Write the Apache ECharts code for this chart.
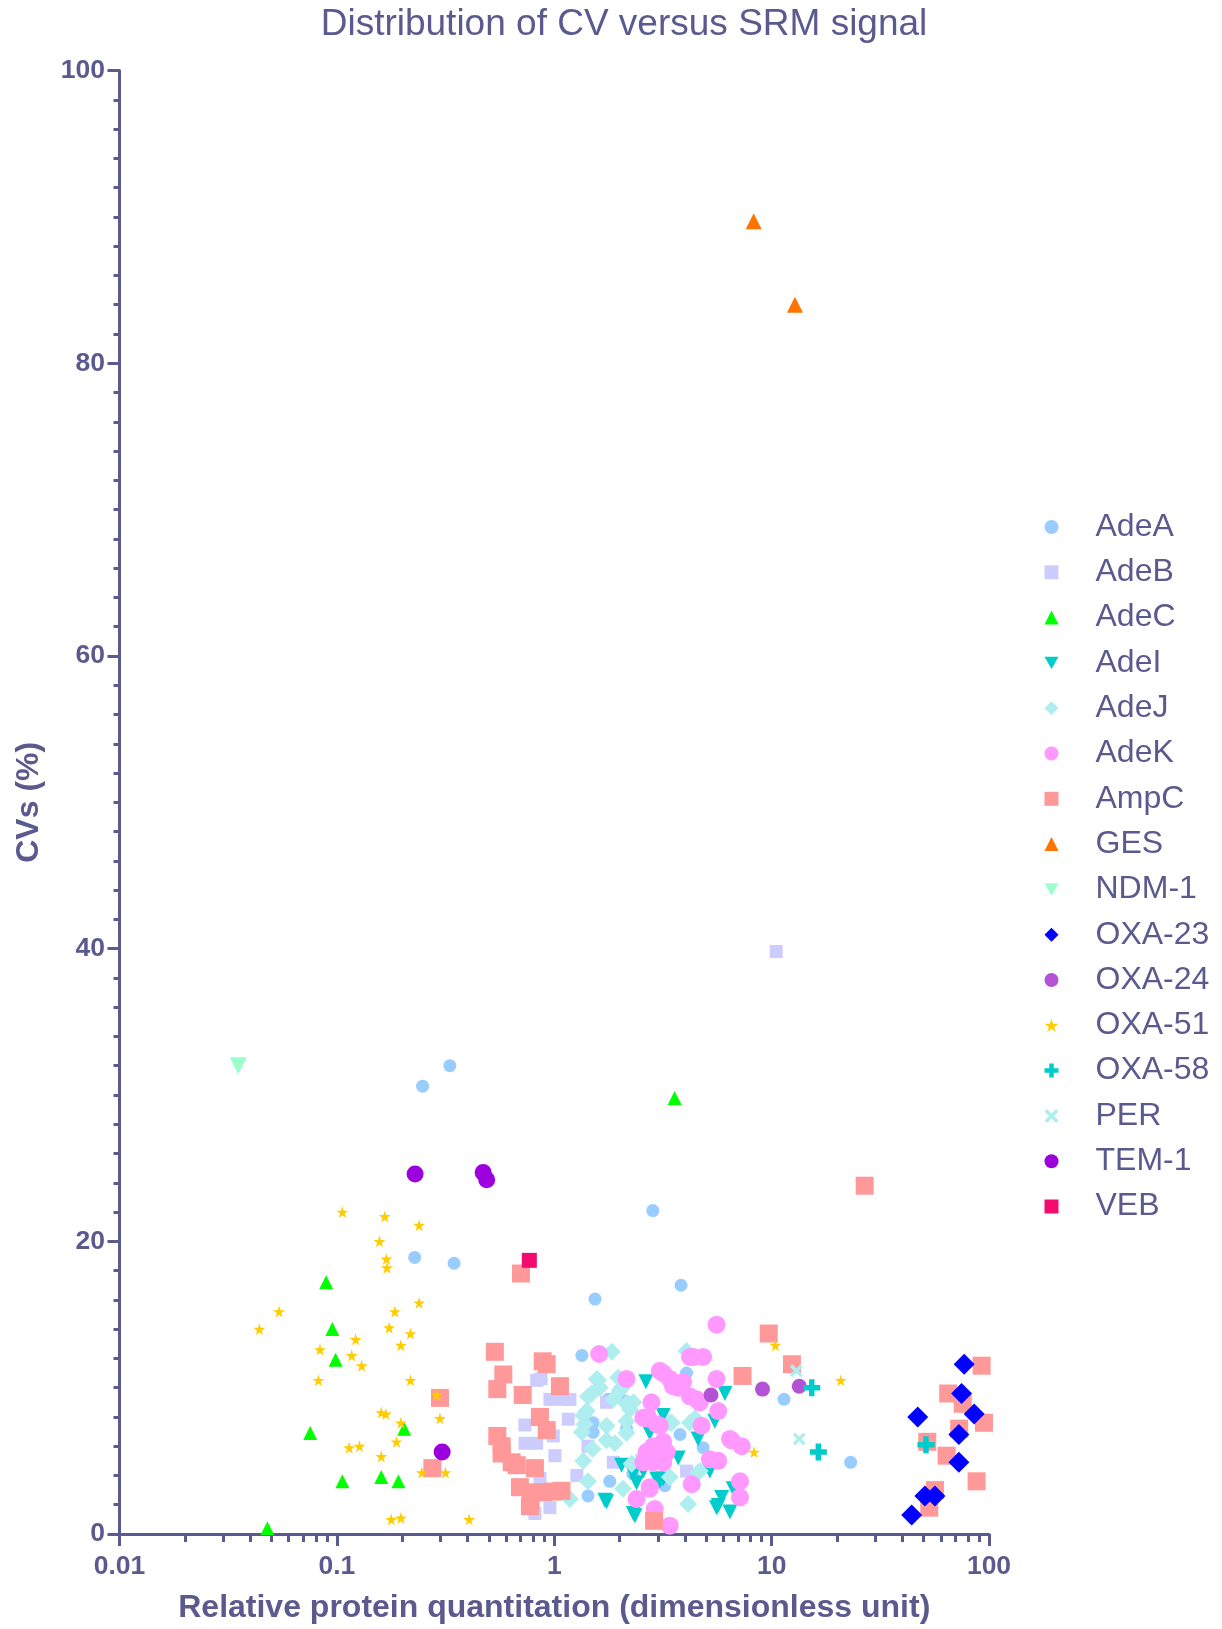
<!DOCTYPE html>
<html>
<head>
<meta charset="utf-8">
<script src="https://cdn.jsdelivr.net/npm/echarts@6/dist/echarts.min.js"></script>
<style>
html,body{margin:0;padding:0;background:#fff;}
#chart{width:1222px;height:1629px;}
</style>
</head>
<body>
<div id="chart"></div>
<script>
// ---- data: [relative protein quantitation, CV %] ----
const seriesNames = ['AdeA','AdeB','AdeC','AdeI','AdeJ','AdeK','AmpC','GES','NDM-1','OXA-23','OXA-24','OXA-51','OXA-58','PER','TEM-1','VEB'];
const xTickLabels = ['0.01','0.1','1','10','100'];
const yTickValues = [0,20,40,60,80,100];

const AdeA = [[0.331,32.0],[0.248,30.6],[2.84,22.1],[0.228,18.9],[0.346,18.5],[3.83,17.0],[1.54,16.05],[1.34,12.2],[11.4,9.2],[23.1,4.9],[4.06,11.0],[1.51,7.6],[1.51,6.95],[3.79,6.8],[4.84,5.9],[1.8,3.6],[1.43,2.6],[2.15,7.2],[3.23,3.3],[2.11,9.1],[1.77,9.2],[2.3,4.1],[2.15,9.0]];
const AdeB = [[10.5,39.8],[0.83,10.5],[0.955,9.2],[1.08,9.2],[1.18,9.2],[0.733,7.45],[1.16,7.85],[1.74,9.0],[0.733,6.2],[0.83,6.2],[0.99,6.7],[1.007,5.35],[1.27,4.0],[1.87,4.9],[0.955,1.8],[0.815,1.4],[4.06,4.3],[0.86,3.8],[1.43,6.0],[0.87,10.6]];
const AdeC = [[3.58,29.8],[0.0893,17.2],[0.0953,14.0],[0.0987,11.9],[0.0754,6.9],[0.204,7.2],[0.106,3.6],[0.16,3.9],[0.192,3.6],[0.0479,0.4]];
const AdeI = [[2.64,10.4],[6.1,9.6],[3.17,8.1],[5.48,7.7],[2.75,6.9],[4.59,6.5],[2.04,4.7],[2.31,4.1],[2.57,4.3],[2.96,3.75],[3.17,3.75],[3.72,5.2],[5.2,4.3],[1.74,2.2],[2.31,1.4],[5.89,2.5],[5.68,1.95],[6.43,1.5],[6.66,3.1],[2.39,3.5],[2.35,1.25],[3.06,3.6],[1.71,2.3],[5.58,1.8]];
const AdeJ = [[1.84,12.45],[1.57,10.6],[1.62,10.0],[1.43,9.4],[1.41,8.4],[1.36,8.1],[1.38,7.5],[1.34,6.95],[1.74,7.4],[1.74,6.4],[2.15,8.9],[2.15,7.7],[2.31,9.0],[1.97,10.7],[1.36,5.0],[1.43,3.6],[1.18,2.4],[2.07,3.1],[3.4,7.6],[4.21,7.6],[4.13,2.05],[4.67,4.3],[4.06,12.5],[3.4,3.9],[2.57,5.35],[2.27,4.8],[1.87,9.2],[2.04,10.0],[1.5,5.8],[1.9,6.2],[1.49,9.6],[2.0,9.8],[2.23,8.5],[2.15,6.9],[4.44,7.9],[3.47,7.6],[4.59,4.2],[1.59,10.5]];
const AdeK = [[1.61,12.3],[5.58,14.3],[2.15,10.6],[3.06,11.15],[3.4,10.6],[3.92,10.4],[4.21,12.1],[4.84,12.1],[5.58,10.6],[3.72,10.0],[4.21,9.4],[4.67,9.0],[2.8,9.0],[5.68,8.4],[2.57,7.95],[2.96,7.5],[4.76,7.4],[6.43,6.5],[7.28,6.0],[3.17,6.3],[2.75,5.35],[3.17,4.9],[2.57,4.9],[5.2,5.1],[5.68,5.0],[4.29,3.4],[2.75,3.2],[2.39,2.4],[7.15,3.6],[7.15,2.5],[2.9,1.7],[3.4,0.57],[2.85,6.0],[3.0,5.6],[2.7,8.0],[3.17,11.0],[3.79,10.25],[4.52,9.2],[2.66,7.9],[3.06,7.4],[3.06,6.0],[2.66,5.6],[3.29,5.6],[2.85,4.9],[6.55,6.4],[2.75,3.1],[3.52,10.1],[4.36,12.1]];
const AmpC = [[0.703,17.8],[26.8,23.8],[0.533,12.45],[0.583,10.9],[0.547,9.9],[0.885,11.8],[0.923,11.6],[0.716,9.5],[1.062,10.1],[0.859,8.0],[0.923,7.1],[0.547,6.7],[0.573,6.0],[0.573,5.5],[0.637,4.9],[0.672,4.7],[0.815,4.5],[0.695,3.2],[0.778,2.3],[0.8,2.85],[0.889,2.85],[0.989,2.9],[1.08,2.95],[0.773,1.9],[2.88,0.9],[9.7,13.7],[12.4,11.6],[7.35,10.8],[0.298,9.3],[0.275,4.5],[92.5,11.5],[64.9,9.6],[75.7,8.9],[94.8,7.6],[72.9,7.2],[52.0,6.3],[63.8,5.35],[87.7,3.6],[56.4,3.0],[53.1,1.8]];
const GES = [[8.27,89.7],[12.8,84.0]];
const NDM1 = [[0.0352,32.0]];
const OXA23 = [[76.9,11.6],[74.8,9.6],[47.0,8.0],[85.5,8.2],[72.7,6.8],[72.7,4.9],[50.7,2.6],[56.4,2.6],[44.1,1.3]];
const OXA24 = [[5.26,9.5],[9.08,9.9],[13.4,10.1]];
const OXA51 = [[0.106,22.0],[0.166,21.7],[0.239,21.1],[0.157,20.0],[0.169,18.8],[0.17,18.2],[0.239,15.8],[0.0542,15.2],[0.185,15.2],[0.044,14.0],[0.174,14.1],[0.218,13.7],[0.122,13.3],[0.197,12.9],[0.0836,12.6],[0.117,12.2],[0.13,11.5],[0.0822,10.5],[0.218,10.5],[0.288,9.5],[0.16,8.3],[0.168,8.2],[0.197,7.6],[0.298,7.9],[0.188,6.3],[0.114,5.9],[0.127,6.0],[0.16,5.3],[0.246,4.2],[0.316,4.2],[0.178,1.0],[0.197,1.1],[0.406,1.0],[10.4,12.9],[20.8,10.5],[8.3,5.6]];
const OXA58 = [[15.3,10.0],[16.4,5.6],[51.3,6.1]];
const PER = [[13.0,11.15],[13.4,6.5]];
const TEM1 = [[0.229,24.6],[0.471,24.7],[0.489,24.2],[0.305,5.6]];
const VEB = [[0.768,18.7]];

// ---- styling ----
const INK = '#5a5a8e';
const STAR = 'path://M50,0 L61,35 L98,35 L68,57 L79,91 L50,70 L21,91 L32,57 L2,35 L39,35 Z';
const PLUS = 'path://M34,0 H66 V34 H100 V66 H66 V100 H34 V66 H0 V34 H34 Z';
const CROSS = 'path://M18,0 L50,32 L82,0 L100,18 L68,50 L100,82 L82,100 L50,68 L18,100 L0,82 L32,50 L0,18 Z';
const DOWN = 'path://M0,0 L100,0 L50,87 Z';

const styles = {
  'AdeA':  {data: AdeA,  symbol: 'circle',   size: 13, color: '#99ccff'},
  'AdeB':  {data: AdeB,  symbol: 'rect',     size: 13, color: '#ccccff'},
  'AdeC':  {data: AdeC,  symbol: 'triangle', size: 14, color: '#00ff00'},
  'AdeI':  {data: AdeI,  symbol: DOWN,       size: 15, color: '#00cccc'},
  'AdeJ':  {data: AdeJ,  symbol: 'diamond',  size: 18, color: '#afeeee'},
  'AdeK':  {data: AdeK,  symbol: 'circle',   size: 18, color: '#ff99ff'},
  'AmpC':  {data: AmpC,  symbol: 'rect',     size: 18, color: '#ff9999'},
  'GES':   {data: GES,   symbol: 'triangle', size: 16, color: '#ff7400'},
  'NDM-1': {data: NDM1,  symbol: DOWN,       size: 17, color: '#99ffcc'},
  'OXA-23':{data: OXA23, symbol: 'diamond',  size: 21, color: '#0000ff'},
  'OXA-24':{data: OXA24, symbol: 'circle',   size: 15, color: '#b452d4'},
  'OXA-51':{data: OXA51, symbol: STAR,       size: 12, color: '#ffcc00'},
  'OXA-58':{data: OXA58, symbol: PLUS,       size: 17, color: '#00cccc'},
  'PER':   {data: PER,   symbol: CROSS,      size: 13, color: '#afeeee'},
  'TEM-1': {data: TEM1,  symbol: 'circle',   size: 17, color: '#9b00dd'},
  'VEB':   {data: VEB,   symbol: 'rect',     size: 15, color: '#f50a6e'}
};

const xMinorTicks = [];
[0.01, 0.1, 1, 10].forEach(function (d) {
  for (let k = 2; k <= 9; k++) xMinorTicks.push(+(d * k).toPrecision(3));
});

const FONT = '"Liberation Sans", Arial, sans-serif';

const series = seriesNames.map(function (n) {
  const s = styles[n];
  return {
    name: n,
    type: 'scatter',
    xAxisIndex: 0,
    yAxisIndex: 0,
    data: s.data,
    symbol: s.symbol,
    symbolSize: s.size,
    itemStyle: {color: s.color, opacity: 1},
    emphasis: {disabled: true},
    animation: false
  };
});

const chart = echarts.init(document.getElementById('chart'), null, {renderer: 'canvas'});
chart.setOption({
  animation: false,
  backgroundColor: '#ffffff',
  textStyle: {fontFamily: FONT},
  title: {
    text: 'Distribution of CV versus SRM signal',
    left: 619, top: 1, textAlign: 'center', padding: 5,
    textStyle: {fontFamily: FONT, fontSize: 37, fontWeight: 'normal', color: INK}
  },
  grid: {left: 119.5, right: 233, top: 70.6, bottom: 94, containLabel: false},
  legend: {
    orient: 'vertical',
    left: 1044.5, top: 511, padding: 0,
    itemWidth: 14, itemHeight: 14, itemGap: 13.3,
    data: seriesNames,
    textStyle: {fontFamily: FONT, fontSize: 32, lineHeight: 32, color: INK, padding: [0, 0, 0, 32]},
    selectedMode: false
  },
  xAxis: [{
    type: 'log', logBase: 10, min: 0.01, max: 100, position: 'bottom',
    name: 'Relative protein quantitation (dimensionless unit)',
    nameLocation: 'middle', nameGap: 58,
    nameTextStyle: {fontFamily: FONT, fontSize: 32, fontWeight: 'bold', color: INK},
    axisLine: {show: true, onZero: false, lineStyle: {color: INK, width: 3}},
    axisTick: {show: true, inside: false, length: 12, lineStyle: {color: INK, width: 3}},
    axisLabel: {
      show: true, margin: 19, color: INK, fontFamily: FONT, fontSize: 26.5, fontWeight: 'bold',
      formatter: function (v) { return xTickLabels[Math.round(Math.log10(v)) + 2]; }
    },
    splitLine: {show: false}
  }, {
    type: 'log', logBase: 10, min: 0.01, max: 100, position: 'bottom',
    axisLine: {show: false},
    axisTick: {show: true, inside: false, length: 8, customValues: xMinorTicks, lineStyle: {color: INK, width: 3}},
    axisLabel: {show: false},
    splitLine: {show: false}
  }],
  yAxis: [{
    type: 'value', min: 0, max: 100, interval: 20,
    name: 'CVs (%)', nameLocation: 'middle', nameGap: 74,
    nameTextStyle: {fontFamily: FONT, fontSize: 32, fontWeight: 'bold', color: INK},
    axisLine: {show: true, onZero: false, lineStyle: {color: INK, width: 3}},
    axisTick: {show: true, inside: false, length: 12, lineStyle: {color: INK, width: 3}},
    minorTick: {show: true, splitNumber: 10, length: 6, lineStyle: {color: INK, width: 3}},
    axisLabel: {
      show: true, margin: 14.5, color: INK, fontFamily: FONT, fontSize: 26.5, fontWeight: 'bold',
      formatter: function (v) { return yTickValues.indexOf(v) >= 0 ? String(v) : ''; }
    },
    splitLine: {show: false},
    minorSplitLine: {show: false}
  }],
  series: series
});
</script>
</body>
</html>
